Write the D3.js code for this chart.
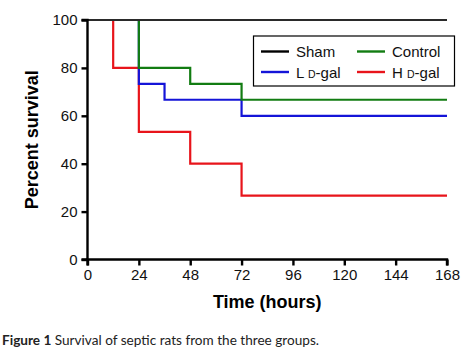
<!DOCTYPE html>
<html>
<head>
    <meta charset="utf-8">
    <script src="https://cdn.jsdelivr.net/npm/d3@7"></script>
    <style>
        body { margin: 0; background: #fff; }
        text { font-family: Arial, "Liberation Sans", sans-serif; }
    </style>
</head>
<body>
    <svg width="471" height="351" id="mainsvg"></svg>
    <script>
        // data: time in hours, percent survival (step curves)
        const xTicks = [0, 24, 48, 72, 96, 120, 144, 168];
        const yTicks = [0, 20, 40, 60, 80, 100];
        const shamTime = [0, 168];
        const shamSurv = [100, 100];
        const ctrlTime = [0, 24, 48, 72, 168];
        const ctrlSurv = [100, 80, 73.3, 66.7, 66.7];
        const lowTime = [0, 24, 36, 72, 168];
        const lowSurv = [100, 73.3, 66.7, 60, 60];
        const highTime = [0, 12, 24, 48, 72, 168];
        const highSurv = [100, 80, 53.3, 40, 26.7, 26.7];

        const svg = d3.select('#mainsvg');
        const margin = { top: 20, right: 24, bottom: 91.5, left: 87.5 };
        const innerWidth = 471 - margin.left - margin.right;
        const innerHeight = 351 - margin.top - margin.bottom;

        const g = svg.append('g')
            .attr('transform', `translate(${margin.left}, ${margin.top})`);

        const xScale = d3.scaleLinear().domain([0, 168]).range([0, innerWidth]);
        const yScale = d3.scaleLinear().domain([0, 100]).range([innerHeight, 0]);

        const line = d3.line()
            .x(d => xScale(d[0]))
            .y(d => yScale(d[1]))
            .curve(d3.curveStepAfter);

        // bottom to top: red, blue, green, black
        const series = [
            { t: highTime, s: highSurv, color: '#e8141b' },
            { t: lowTime, s: lowSurv, color: '#1414d8' },
            { t: ctrlTime, s: ctrlSurv, color: '#127c12' },
            { t: shamTime, s: shamSurv, color: '#2a2a2a' }
        ];
        series.forEach(d => {
            g.append('path')
                .attr('d', line(d.t.map((t, i) => [t, d.s[i]])))
                .attr('fill', 'none')
                .attr('stroke', d.color)
                .attr('stroke-width', 2.2);
        });

        const xAxis = d3.axisBottom(xScale).tickValues(xTicks).tickSize(6).tickPadding(4);
        const yAxis = d3.axisLeft(yScale).tickValues(yTicks).tickSize(6).tickPadding(4);

        const xg = g.append('g').attr('transform', `translate(0, ${innerHeight})`).call(xAxis);
        const yg = g.append('g').call(yAxis);
        [xg, yg].forEach(a => {
            a.select('.domain').attr('stroke', '#000').attr('stroke-width', 2.4);
            a.selectAll('.tick line').attr('stroke', '#000').attr('stroke-width', 2.4);
            a.selectAll('.tick text').attr('font-size', 15).attr('fill', '#111')
                .attr('font-family', 'Arial, "Liberation Sans", sans-serif');
        });
        xg.select('.domain').attr('d', `M0,6V0H${innerWidth}V6`);
        yg.select('.domain').attr('d', `M-6,0H0V${innerHeight}H-6`);

        // axis titles
        svg.append('text').text('Time (hours)')
            .attr('x', margin.left + innerWidth / 2).attr('y', 308)
            .attr('text-anchor', 'middle').attr('font-size', 18).attr('font-weight', 'bold');
        svg.append('text').text('Percent survival')
            .attr('transform', `translate(38, ${margin.top + innerHeight / 2}) rotate(-90)`)
            .attr('text-anchor', 'middle').attr('font-size', 18).attr('font-weight', 'bold');

        // legend
        const legend = svg.append('g');
        legend.append('rect')
            .attr('x', 253.5).attr('y', 36).attr('width', 201).attr('height', 50)
            .attr('fill', '#fff').attr('stroke', '#000').attr('stroke-width', 1.2);
        const legendItems = [
            { name: ['Sham'], color: '#000', x: 261, y: 51.5 },
            { name: ['Control'], color: '#127c12', x: 357, y: 51.5 },
            { name: ['L ', 'D', '-gal'], color: '#1414d8', x: 261, y: 72 },
            { name: ['H ', 'D', '-gal'], color: '#e8141b', x: 357, y: 72 }
        ];
        legendItems.forEach(d => {
            legend.append('line')
                .attr('x1', d.x).attr('x2', d.x + 28).attr('y1', d.y).attr('y2', d.y)
                .attr('stroke', d.color).attr('stroke-width', 2.4);
            const t = legend.append('text')
                .attr('x', d.x + 35).attr('y', d.y + 5.5)
                .attr('font-size', 15).attr('fill', '#111');
            d.name.forEach((s, i) => {
                t.append('tspan').text(s).attr('font-size', s === 'D' ? 10.5 : 15);
            });
        });

        // caption
        const cap = svg.append('text').attr('x', 2).attr('y', 345)
            .attr('font-size', 13.6).attr('fill', '#222')
            .style('font-family', 'Lato, "Open Sans", sans-serif');
        cap.append('tspan').text('Figure 1').attr('font-weight', 'bold');
        cap.append('tspan').text(' Survival of septic rats from the three groups.');
    </script>
</body>
</html>
